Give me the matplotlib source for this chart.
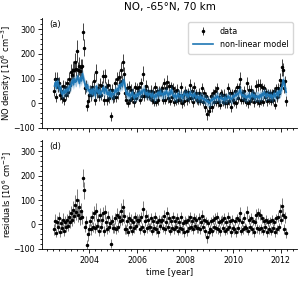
#!/usr/bin/env python3

import numpy as np
import matplotlib
matplotlib.use('Agg')
from matplotlib import pyplot as plt
from matplotlib.ticker import MultipleLocator, AutoMinorLocator

# half-monthly samples, starting mid 2002
t_start = 2002.55
t_step = 1.0 / 24

# non-linear model [10^6 cm^-3], one row per half year
model = [
    70, 85, 60, 90, 75, 55, 65, 45, 35, 50, 40, 55,
    45, 60, 50, 70, 65, 80, 95, 75, 100, 85, 90, 110,
    95, 80, 105, 90, 120, 100, 85, 70, 60, 75, 50, 55,
    40, 55, 35, 60, 45, 30, 70, 50, 40, 55, 35, 45,
    50, 65, 40, 60, 55, 35, 45, 30, 50, 25, 40, 35,
    40, 55, 45, 60, 50, 75, 65, 80, 70, 95, 85, 60,
    35, 45, 30, 40, 25, 35, 45, 30, 20, 35, 25, 40,
    30, 45, 35, 50, 40, 55, 55, 40, 35, 45, 30, 40,
    35, 25, 40, 30, 20, 35, 25, 40, 45, 30, 50, 35,
    40, 30, 45, 35, 50, 40, 30, 45, 35, 55, 40, 30,
    25, 35, 20, 30, 40, 25, 30, 35, 20, 30, 40, 35,
    30, 40, 25, 35, 45, 30, 35, 25, 40, 30, 20, 30,
    25, 15, 30, 20, 25, 15, 20, 10, 15, 5, 10, 0,
    5, 15, 10, 20, 15, 25, 20, 30, 25, 15, 20, 25,
    15, 20, 10, 25, 15, 20, 30, 20, 25, 15, 20, 30,
    25, 35, 30, 40, 35, 45, 55, 40, 30, 35, 25, 30,
    20, 30, 25, 35, 20, 30, 40, 25, 35, 20, 30, 25,
    30, 20, 35, 25, 40, 30, 45, 35, 25, 40, 30, 35,
    25, 35, 20, 30, 40, 25, 35, 45, 30, 50, 40, 55,
    70, 95, 80, 60, 45,
]

# residuals (data - model) [10^6 cm^-3]
resid = [
    -20, 15, -35, 10, -10, 25, -30, 5, -15, 20, -25, 10,
    -10, 20, -5, 30, 10, 45, 20, 60, 35, 80, 50, 100,
    40, 70, 25, 55, 30, 190, 140, -10, 10, -85, -40, -20,
    15, -20, 30, -10, 45, -15, 55, -5, 20, -25, 40, -10,
    20, 45, -25, 50, 10, -20, 30, -10, 5, -78, 15, -15,
    -15, 25, -20, 40, -10, 30, 15, 55, 20, 70, 35, -20,
    -20, 15, -30, 25, -10, 20, -25, 10, -15, 30, -5, 20,
    15, 20, -20, 30, -10, 65, -25, 15, 35, -15, 20, -10,
    -10, 25, -25, 15, -15, 30, -20, 10, -30, 20, -5, 15,
    20, -15, 35, -20, 10, 45, -10, 25, -25, 15, -15, 30,
    -20, 15, -10, 25, -25, 10, -15, 30, -20, 5, -30, 15,
    10, -25, 20, -15, 30, -10, 15, -20, 25, -5, 20, -15,
    -15, 25, -20, 10, 35, -10, 20, -25, 15, -50, 5, -30,
    -20, 15, -25, 20, -10, 25, -15, 30, -20, 10, -25, 15,
    20, -15, 25, -25, 10, -20, 30, -10, 15, -30, 20, -15,
    -20, 15, -30, 25, -15, 20, 45, -25, 10, -20, 25, -10,
    -15, 50, -25, 20, -10, 25, -20, 15, -30, 10, 40, -15,
    45, -20, 40, -15, 25, -25, 15, -10, 20, -30, 10, -20,
    15, -25, 20, -15, 10, -30, 25, -20, 30, -10, 55, 20,
    75, 40, -20, 30, -35,
]

# data uncertainties [10^6 cm^-3]
err = [
    22, 26, 18, 25, 20, 28, 20, 22, 18, 26, 21, 24,
    20, 24, 21, 28, 24, 32, 26, 36, 28, 40, 30, 45,
    30, 36, 26, 34, 30, 35, 34, 22, 24, 20, 26, 22,
    20, 24, 26, 21, 32, 20, 34, 22, 24, 21, 28, 20,
    22, 26, 20, 28, 21, 20, 24, 19, 21, 18, 22, 20,
    20, 22, 19, 26, 21, 24, 22, 32, 24, 36, 28, 20,
    18, 22, 16, 24, 18, 21, 17, 23, 19, 20, 16, 22,
    18, 21, 17, 22, 18, 30, 19, 20, 24, 18, 21, 17,
    17, 22, 18, 20, 16, 23, 18, 19, 21, 18, 16, 20,
    19, 17, 24, 18, 20, 28, 17, 22, 19, 18, 17, 21,
    18, 20, 16, 22, 19, 17, 18, 23, 18, 16, 20, 18,
    17, 20, 18, 17, 22, 16, 18, 19, 21, 17, 18, 19,
    18, 21, 17, 16, 23, 18, 19, 20, 17, 24, 16, 20,
    19, 17, 20, 18, 16, 21, 18, 22, 19, 17, 20, 18,
    18, 17, 21, 19, 16, 18, 22, 17, 18, 20, 19, 17,
    18, 17, 20, 19, 18, 17, 26, 19, 16, 18, 20, 17,
    17, 26, 18, 19, 16, 20, 18, 17, 20, 16, 24, 18,
    24, 17, 23, 18, 19, 18, 17, 16, 18, 20, 16, 18,
    17, 19, 18, 16, 17, 20, 19, 18, 21, 17, 28, 20,
    34, 26, 20, 22, 21,
]

model_sigma = 20

model = np.array(model, dtype=float)
resid = np.array(resid, dtype=float)
err = np.array(err, dtype=float)
time = t_start + np.arange(len(model)) * t_step
no_data = model + resid

plt.rcParams['font.size'] = 6
plt.rcParams['xtick.labelsize'] = 5.7
plt.rcParams['ytick.labelsize'] = 5.7
plt.rcParams['xtick.major.size'] = 3
plt.rcParams['ytick.major.size'] = 3
plt.rcParams['xtick.minor.size'] = 1.5
plt.rcParams['ytick.minor.size'] = 1.5
plt.rcParams['xtick.major.width'] = 0.6
plt.rcParams['ytick.major.width'] = 0.6
plt.rcParams['xtick.major.pad'] = 2
plt.rcParams['ytick.major.pad'] = 2
plt.rcParams['axes.linewidth'] = 0.6

fig = plt.figure(figsize=(3.0, 2.81), dpi=100)
ax1 = fig.add_axes([0.14, 0.5445, 0.85, 0.3915])
ax2 = fig.add_axes([0.14, 0.1139, 0.85, 0.3879], sharex=ax1)

h_data = ax1.errorbar(time, no_data, err, fmt='.', color='k', ms=3, ecolor='0.15',
                      elinewidth=0.6, label='data', zorder=2)
ax1.fill_between(time, model - model_sigma, model + model_sigma, color='C0', alpha=0.45, lw=0, zorder=3)
h_model, = ax1.plot(time, model, color='C0', lw=1.2, label='non-linear model', zorder=4)
ax1.legend([h_data, h_model], ['data', 'non-linear model'], loc='upper right',
           fontsize=5.8, handlelength=2.5, borderpad=0.6)
ax1.text(0.03, 0.98, '(a)', transform=ax1.transAxes, va='top', ha='left')
ax1.set_ylabel('NO density [10$^6$ cm$^{-3}$]')
ax1.set_title('NO, -65°N, 70 km', fontsize=7.5)
plt.setp(ax1.get_xticklabels(), visible=False)

ax2.errorbar(time, resid, err, fmt='.', color='k', ms=3, ecolor='0.4', elinewidth=0.6)
ax2.text(0.03, 0.98, '(d)', transform=ax2.transAxes, va='top', ha='left')
ax2.set_ylabel('residuals [10$^6$ cm$^{-3}$]')
ax2.set_xlabel('time [year]', labelpad=2)

for ax in (ax1, ax2):
    ax.spines['top'].set_visible(False)
    ax.spines['right'].set_visible(False)
    ax.set_ylim(-100, 345)
    ax.yaxis.set_major_locator(MultipleLocator(100))
    ax.yaxis.set_minor_locator(AutoMinorLocator())
    ax.xaxis.set_major_locator(MultipleLocator(2))
    ax.xaxis.set_minor_locator(MultipleLocator(0.25))
    ax.yaxis.set_label_coords(-0.11, 0.5)

ax1.set_xlim(2002.03, 2012.67)

plt.savefig('out.png', dpi=100)
